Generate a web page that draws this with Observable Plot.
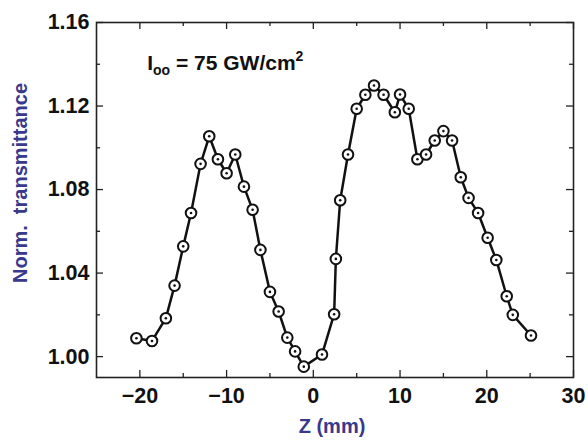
<!DOCTYPE html>
<html>
<head>
<meta charset="utf-8">
<script src="https://cdn.jsdelivr.net/npm/d3@7"></script>
<script src="https://cdn.jsdelivr.net/npm/@observablehq/plot@0.6"></script>
<style>
  html, body { margin: 0; padding: 0; background: #fff; }
  #chart svg { display: block; }
</style>
</head>
<body>
<div id="chart"></div>
<script>
// Data
const zPos = [-20.4, -18.6, -17.0, -16.0, -15.0, -14.1, -13.0, -12.0, -11.0, -10.0, -9.0, -8.0, -7.0, -6.1, -5.0, -4.0, -3.0, -2.1, -1.1, 1.0, 2.4, 2.6, 3.1, 4.0, 5.0, 6.0, 7.0, 8.1, 9.4, 10.0, 11.0, 12.0, 13.0, 14.0, 15.0, 16.0, 17.0, 17.9, 19.0, 20.1, 21.1, 22.3, 23.0, 25.1];
const transmittance = [1.0088, 1.0075, 1.0184, 1.034, 1.0528, 1.0688, 1.0923, 1.1055, 1.0945, 1.0878, 1.0968, 1.0814, 1.0703, 1.0511, 1.031, 1.0216, 1.0091, 1.0025, 0.9952, 1.001, 1.0203, 1.0468, 1.0749, 1.0968, 1.1187, 1.1254, 1.1298, 1.1254, 1.117, 1.1255, 1.1187, 1.0945, 1.0968, 1.1035, 1.108, 1.1035, 1.0859, 1.076, 1.0688, 1.0569, 1.0463, 1.0289, 1.02, 1.0101];

const xTicks = [-20, -10, 0, 10, 20, 30];
const xMinor = [-15, -5, 5, 15, 25];
const yTicks = [1.00, 1.04, 1.08, 1.12, 1.16];
const yMinor = [1.02, 1.06, 1.10, 1.14];

const xLabel = "Z (mm)";
const yLabel = "Norm.  transmittance";
const annoZ = -19.1, annoT = 1.137;

const data = zPos.map((z, i) => ({z, t: transmittance[i]}));

const W = 588, H = 440;
const mL = 96, mR = 15, mT = 22, mB = 63;
const innerH = H - mT - mB;
const innerW = W - mL - mR;
const major = 7, minor = 4;
const labelColor = "#38388c";
const font = "'Liberation Sans', Arial, Helvetica, sans-serif";

const chart = Plot.plot({
  width: W,
  height: H,
  marginLeft: mL,
  marginRight: mR,
  marginTop: mT,
  marginBottom: mB,
  style: {fontFamily: font, fontWeight: "bold", color: "#111", background: "#fff", overflow: "visible"},
  x: {domain: [-25, 30]},
  y: {domain: [0.99, 1.16]},
  marks: [
    Plot.frame({stroke: "#222", strokeWidth: 1.6}),
    // inward ticks bottom/top
    Plot.ruleX(xTicks, {stroke: "#222", strokeWidth: 1.3, insetTop: innerH - major}),
    Plot.ruleX(xTicks, {stroke: "#222", strokeWidth: 1.3, insetBottom: innerH - major}),
    Plot.ruleX(xMinor, {stroke: "#222", strokeWidth: 1.3, insetTop: innerH - minor}),
    Plot.ruleX(xMinor, {stroke: "#222", strokeWidth: 1.3, insetBottom: innerH - minor}),
    // inward ticks left/right
    Plot.ruleY(yTicks, {stroke: "#222", strokeWidth: 1.3, insetRight: innerW - major}),
    Plot.ruleY(yTicks, {stroke: "#222", strokeWidth: 1.3, insetLeft: innerW - major}),
    Plot.ruleY(yMinor, {stroke: "#222", strokeWidth: 1.3, insetRight: innerW - minor}),
    Plot.ruleY(yMinor, {stroke: "#222", strokeWidth: 1.3, insetLeft: innerW - minor}),
    Plot.axisX({ticks: xTicks, tickSize: 0, tickPadding: 10, fontSize: 21.5, label: null}),
    Plot.axisY({ticks: yTicks, tickSize: 0, tickPadding: 7, fontSize: 21.5, tickFormat: d3.format(".2f"), label: null}),
    Plot.line(data, {x: "z", y: "t", stroke: "#111", strokeWidth: 2.5}),
    Plot.dot(data, {x: "z", y: "t", r: 5.3, fill: "white", stroke: "#111", strokeWidth: 2}),
    Plot.dot(data, {x: "z", y: "t", r: 1.3, fill: "#111"}),
    Plot.text([yLabel], {text: d => d, frameAnchor: "left", textAnchor: "middle", lineAnchor: "middle", rotate: -90, dx: -76, dy: -17, fill: labelColor, fontSize: 20, fontWeight: "bold"}),
    Plot.text([xLabel], {text: d => d, frameAnchor: "bottom", textAnchor: "middle", lineAnchor: "middle", dx: -3, dy: 49, fill: labelColor, fontSize: 20, fontWeight: "bold"})
  ]
});

document.getElementById("chart").appendChild(chart);

// Annotation with subscript / superscript
const sx = chart.scale("x"), sy = chart.scale("y");
const svg = d3.select(chart);
const t = svg.append("text")
  .attr("x", sx.apply(annoZ))
  .attr("y", sy.apply(annoT))
  .attr("text-anchor", "start")
  .attr("font-family", font)
  .attr("font-weight", "bold")
  .attr("font-size", 21)
  .attr("fill", "#111");
t.append("tspan").text("I");
t.append("tspan").attr("font-size", 14).attr("dy", 5).text("oo");
t.append("tspan").attr("dy", -5).text(" = 75 GW/cm");
t.append("tspan").attr("font-size", 14).attr("dy", -9).text("2");
</script>
</body>
</html>
